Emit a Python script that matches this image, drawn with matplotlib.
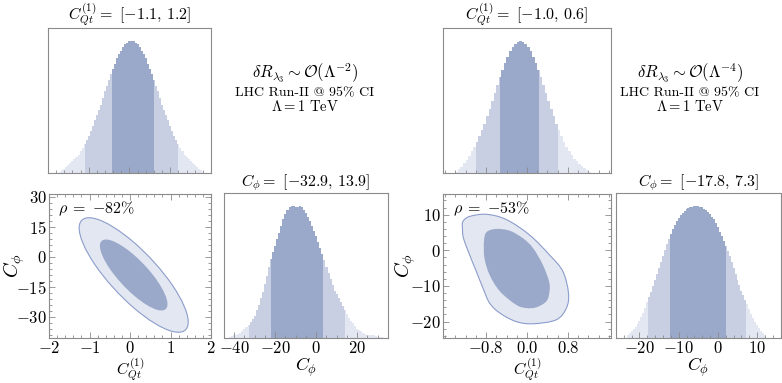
import numpy as np
import matplotlib
matplotlib.use("Agg")
import matplotlib.pyplot as plt
from matplotlib.patches import Circle, Rectangle, PathPatch
from matplotlib.path import Path
from matplotlib.transforms import Affine2D
from matplotlib.ticker import MultipleLocator, FixedLocator, FuncFormatter

plt.rcParams['mathtext.fontset'] = 'cm'
plt.rcParams['font.family'] = ['cmr10', 'DejaVu Serif']
plt.rcParams['axes.unicode_minus'] = False

# ---- data ----
# left block: O(Lambda^-2)
cqt_a_x = np.arange(-1.7, 1.825, 0.05)
cqt_a_h = [0.01, 0.02, 0.035, 0.05, 0.06, 0.08, 0.09, 0.11, 0.12, 0.14,
           0.17, 0.19, 0.22, 0.25, 0.28, 0.32, 0.36, 0.40, 0.44, 0.48,
           0.52, 0.57, 0.62, 0.66, 0.71, 0.75, 0.79, 0.83, 0.87, 0.90,
           0.93, 0.96, 0.98, 0.99, 1.0, 1.0,
           1.0, 0.99, 0.98, 0.96, 0.93, 0.90, 0.87, 0.83, 0.79, 0.75,
           0.71, 0.66, 0.62, 0.57, 0.52, 0.48, 0.44, 0.40, 0.36, 0.32,
           0.28, 0.25, 0.22, 0.19, 0.17, 0.14, 0.12, 0.11, 0.09, 0.08,
           0.06, 0.05, 0.035, 0.02, 0.01]
cqt_a_ci95 = [-1.1, 1.2]
cqt_a_ci68 = [-0.43, 0.6]

cphi_a_x = np.arange(-42, 32.5, 1)
cphi_a_h = [0.01, 0.015, 0.02, 0.025, 0.03, 0.04, 0.05, 0.065, 0.08, 0.10,
            0.12, 0.145, 0.17, 0.21, 0.25, 0.30, 0.35, 0.41, 0.47, 0.535,
            0.60, 0.65, 0.70, 0.75, 0.80, 0.85, 0.90, 0.94, 0.97, 0.99,
            1.0, 1.0, 0.99, 0.99, 1.0, 0.99, 0.97, 0.95, 0.92, 0.885,
            0.85, 0.81, 0.77, 0.725, 0.68, 0.635, 0.59, 0.54, 0.49, 0.445,
            0.40, 0.36, 0.33, 0.30, 0.27, 0.24, 0.21, 0.185, 0.155, 0.13,
            0.11, 0.09, 0.07, 0.06, 0.05, 0.04, 0.03, 0.025, 0.02, 0.02,
            0.02, 0.015, 0.01, 0.01, 0.01]
cphi_a_ci95 = [-32.9, 13.9]
cphi_a_ci68 = [-22.1, 3.1]

# gaussian fit of the 2D contour (mean, sigma, correlation)
corr_a_mean = [0.09, -9.2]
corr_a_sigma = [0.55, 11.7]
corr_a_rho = -0.82
chi2_levels = [5.99, 2.30]

# right block: O(Lambda^-4)
cqt_b_x = np.arange(-1.375, 1.25, 0.05)
cqt_b_h = [0.01, 0.03, 0.05, 0.075, 0.10, 0.13, 0.164, 0.198, 0.236, 0.278,
           0.325, 0.375, 0.43, 0.487, 0.546, 0.607, 0.667, 0.726, 0.783, 0.835,
           0.882, 0.923, 0.956, 0.98, 0.995, 1.0,
           0.995, 0.98, 0.956, 0.923, 0.882, 0.835, 0.783, 0.726, 0.667, 0.607,
           0.546, 0.487, 0.43, 0.375, 0.325, 0.278, 0.236, 0.198, 0.164, 0.135,
           0.11, 0.089, 0.071, 0.056, 0.04, 0.025, 0.01]
cqt_b_ci95 = [-1.0, 0.6]
cqt_b_ci68 = [-0.53, 0.23]

cphi_b_x = np.arange(-23, 12.25, 0.5)
cphi_b_h = [0.02, 0.035, 0.05, 0.065, 0.08, 0.105, 0.13, 0.16, 0.19, 0.23,
            0.27, 0.31, 0.35, 0.395, 0.44, 0.485, 0.53, 0.575, 0.62, 0.665,
            0.71, 0.75, 0.79, 0.825, 0.86, 0.885, 0.91, 0.93, 0.95, 0.965,
            0.98, 0.985, 0.99, 0.995, 1.0, 1.0, 1.0, 0.995, 0.99, 0.98,
            0.97, 0.955, 0.94, 0.92, 0.90, 0.87, 0.84, 0.805, 0.77, 0.735,
            0.70, 0.66, 0.62, 0.575, 0.53, 0.485, 0.44, 0.40, 0.36, 0.325,
            0.29, 0.255, 0.22, 0.185, 0.15, 0.125, 0.10, 0.075, 0.05, 0.035,
            0.02]
cphi_b_ci95 = [-17.8, 7.3]
cphi_b_ci68 = [-12.2, 2.05]

outer_b_x = [-1.26, -1.24, -1.12, -0.99, -0.86, -0.73, -0.53, -0.21, 0.12, 0.57,
             0.77, 0.81, 0.70, 0.44, 0.05, -0.40, -0.79, -1.12, -1.25]
outer_b_y = [6.2, 3.4, -1.3, -5.9, -10.6, -14.8, -17.6, -20.0, -20.6, -19.5,
             -16.2, -12.0, -5.9, -1.3, 4.3, 8.6, 10.1, 9.5, 8.1]
inner_b_x = [-0.84, -0.79, -0.60, -0.34, -0.08, 0.12, 0.31, 0.43, 0.44, 0.38,
             0.18, -0.01, -0.21, -0.53, -0.73, -0.83]
inner_b_y = [2.5, 5.1, 6.0, 5.5, 3.4, 0.6, -4.1, -8.7, -11.5, -14.3,
             -16.0, -16.2, -15.3, -11.5, -6.9, -2.2]

rho_labels = [r'$\rho\;=\;{-}82\%$', r'$\rho\;=\;{-}53\%$']

# ---- style ----
c_light = '#e3e7f1'
c_mid = '#c8cfe3'
c_dark = '#9aa8ca'
c_edge = '#8b9dcc'
frame = '#8a8a8a'


def fmt(dec):
    return FuncFormatter(lambda v, p: ('$%.' + str(dec) + 'f$') % v)


def style(ax, contour=False):
    for s in ax.spines.values():
        s.set_color(frame)
        s.set_linewidth(0.8)
    ax.tick_params(which='both', direction='in', colors=frame, labelcolor='black',
                   labelsize=12, width=0.6, pad=1.5)
    ax.tick_params(which='major', length=4)
    ax.tick_params(which='minor', length=2)
    if contour:
        ax.tick_params(which='both', top=True, right=True)
    else:
        ax.tick_params(which='both', left=False, labelleft=False)


def hist(ax, x, h, ci95, ci68, step):
    for col, band in [(c_light, None), (c_mid, ci95), (c_dark, ci68)]:
        bars = ax.bar(x, h, width=step * 1.02, color=col, linewidth=0)
        if band is not None:
            clip = Rectangle((band[0], 0), band[1] - band[0], 2, transform=ax.transData)
            for b in bars:
                b.set_clip_path(clip)
    ax.set_ylim(0, 1.1)


def smooth_path(xs, ys):
    p = np.column_stack([xs, ys])
    n = len(p)
    verts = [p[0]]
    codes = [Path.MOVETO]
    for i in range(n):
        p0, p1, p2, p3 = p[i - 1], p[i], p[(i + 1) % n], p[(i + 2) % n]
        verts += [p1 + (p2 - p0) / 6, p2 - (p3 - p1) / 6, p2]
        codes += [Path.CURVE4] * 3
    return Path(verts, codes)


def gauss_ellipse(ax, mean, sigma, rho, k, **kw):
    cov = np.array([[sigma[0] ** 2, rho * sigma[0] * sigma[1]],
                    [rho * sigma[0] * sigma[1], sigma[1] ** 2]])
    L = np.linalg.cholesky(cov) * np.sqrt(k)
    m = np.array([[L[0, 0], L[0, 1], mean[0]], [L[1, 0], L[1, 1], mean[1]], [0, 0, 1]])
    ax.add_patch(Circle((0, 0), 1, transform=Affine2D(m) + ax.transData, **kw))


def labels(ax, xlab, ylab, xy_x, xy_y=None, size=13):
    ax.set_xlabel(xlab, fontsize=size)
    ax.xaxis.set_label_coords(0.5, xy_x)
    ax.xaxis.label.set_va('top')
    if ylab:
        ax.set_ylabel(ylab, fontsize=14.5)
        ax.yaxis.set_label_coords(xy_y, 0.5)
        ax.yaxis.label.set_va('center')


fig = plt.figure(figsize=(7.82, 3.83), dpi=100)

# ---- left block ----
ax1 = fig.add_axes([0.0614, 0.548, 0.2084, 0.3786])
hist(ax1, cqt_a_x, cqt_a_h, cqt_a_ci95, cqt_a_ci68, 0.05)
ax1.set_xlim(-2, 2)
ax1.xaxis.set_major_locator(MultipleLocator(1))
ax1.xaxis.set_minor_locator(MultipleLocator(0.2))
style(ax1)
ax1.tick_params(labelbottom=False)
ax1.set_title(r'$C^{(1)}_{Qt}{=}\ [-1.1,\, 1.2]$', fontsize=11.5, pad=1.5)

ax2 = fig.add_axes([0.0627, 0.1175, 0.2072, 0.376])
gauss_ellipse(ax2, corr_a_mean, corr_a_sigma, corr_a_rho, chi2_levels[0],
              facecolor=c_light, edgecolor=c_edge, linewidth=0.8)
gauss_ellipse(ax2, corr_a_mean, corr_a_sigma, corr_a_rho, chi2_levels[1],
              facecolor=c_dark, edgecolor='none')
ax2.set_xlim(-2, 2)
ax2.set_ylim(-40.7, 31.3)
ax2.xaxis.set_major_locator(MultipleLocator(1))
ax2.xaxis.set_minor_locator(MultipleLocator(0.2))
ax2.yaxis.set_major_locator(MultipleLocator(15))
ax2.yaxis.set_minor_locator(MultipleLocator(3))
ax2.xaxis.set_major_formatter(fmt(0))
ax2.yaxis.set_major_formatter(fmt(0))
style(ax2, contour=True)
ax2.text(0.29, 0.9, rho_labels[0], transform=ax2.transAxes, ha='center', va='center', fontsize=11.5)
labels(ax2, r'$C^{(1)}_{Qt}$', r'$C_{\phi}$', -0.125, -0.215, size=11.5)

ax3 = fig.add_axes([0.2864, 0.1175, 0.2097, 0.3786])
hist(ax3, cphi_a_x, cphi_a_h, cphi_a_ci95, cphi_a_ci68, 1)
ax3.set_xlim(-45, 35)
ax3.xaxis.set_major_locator(MultipleLocator(20))
ax3.xaxis.set_minor_locator(MultipleLocator(5))
ax3.xaxis.set_major_formatter(fmt(0))
style(ax3)
ax3.set_title(r'$C_{\phi}{=}\ [-32.9,\, 13.9]$', fontsize=11.5, pad=1.5)
labels(ax3, r'$C_{\phi}$', None, -0.12)

# ---- right block ----
ax4 = fig.add_axes([0.5665, 0.548, 0.2148, 0.3786])
hist(ax4, cqt_b_x, cqt_b_h, cqt_b_ci95, cqt_b_ci68, 0.05)
ax4.set_xlim(-1.64, 1.64)
ax4.xaxis.set_major_locator(FixedLocator([-0.8, 0, 0.8]))
ax4.xaxis.set_minor_locator(MultipleLocator(0.2))
style(ax4)
ax4.tick_params(labelbottom=False)
ax4.set_title(r'$C^{(1)}_{Qt}{=}\ [-1.0,\, 0.6]$', fontsize=11.5, pad=1.5)

ax5 = fig.add_axes([0.5665, 0.1175, 0.2148, 0.376])
ax5.add_patch(PathPatch(smooth_path(outer_b_x, outer_b_y), facecolor=c_light,
                        edgecolor=c_edge, linewidth=0.8))
ax5.add_patch(PathPatch(smooth_path(inner_b_x, inner_b_y), facecolor=c_dark,
                        edgecolor='none'))
ax5.set_xlim(-1.64, 1.64)
ax5.set_ylim(-24.6, 15.8)
ax5.xaxis.set_major_locator(FixedLocator([-0.8, 0, 0.8]))
ax5.xaxis.set_minor_locator(MultipleLocator(0.2))
ax5.yaxis.set_major_locator(MultipleLocator(10))
ax5.yaxis.set_minor_locator(MultipleLocator(2))
ax5.xaxis.set_major_formatter(fmt(1))
ax5.yaxis.set_major_formatter(fmt(0))
style(ax5, contour=True)
ax5.text(0.29, 0.9, rho_labels[1], transform=ax5.transAxes, ha='center', va='center', fontsize=11.5)
labels(ax5, r'$C^{(1)}_{Qt}$', r'$C_{\phi}$', -0.125, -0.225, size=11.5)

ax6 = fig.add_axes([0.7877, 0.1175, 0.2105, 0.3786])
hist(ax6, cphi_b_x, cphi_b_h, cphi_b_ci95, cphi_b_ci68, 0.5)
ax6.set_xlim(-26, 16)
ax6.xaxis.set_major_locator(MultipleLocator(10))
ax6.xaxis.set_minor_locator(MultipleLocator(2))
ax6.xaxis.set_major_formatter(fmt(0))
style(ax6)
ax6.set_title(r'$C_{\phi}{=}\ [-17.8,\, 7.3]$', fontsize=11.5, pad=1.5)
labels(ax6, r'$C_{\phi}$', None, -0.12)

# ---- annotations ----
for xc, power in [(0.39, '-2'), (0.882, '-4')]:
    fig.text(xc, 0.81, r'$\delta R_{\lambda_3} \sim \mathcal{O}(\Lambda^{' + power + '})$',
             ha='center', va='center', fontsize=12)
    fig.text(xc, 0.757, 'LHC Run-II @ 95% CI', ha='center', va='center', fontsize=10)
    fig.text(xc, 0.722, r'$\Lambda = 1\ \mathrm{TeV}$', ha='center', va='center', fontsize=10.5)

fig.savefig('out.png', dpi=100)
